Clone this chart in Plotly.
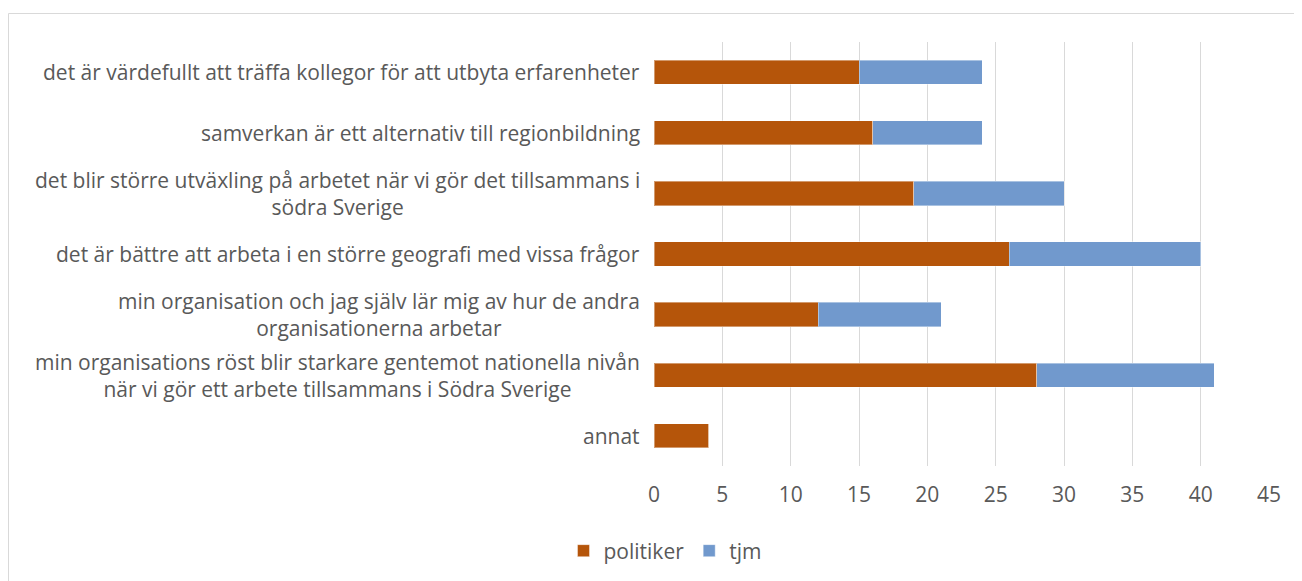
import plotly.graph_objects as go

categories = [
    "det är värdefullt att träffa kollegor för att utbyta erfarenheter",
    "samverkan är ett alternativ till regionbildning",
    "det blir större utväxling på arbetet när vi gör det tillsammans i<br>södra Sverige",
    "det är bättre att arbeta i en större geografi med vissa frågor",
    "min organisation och jag själv lär mig av hur de andra<br>organisationerna arbetar",
    "min organisations röst blir starkare gentemot nationella nivån<br>när vi gör ett arbete tillsammans i Södra Sverige",
    "annat",
]
politiker = [15, 16, 19, 26, 12, 28, 4]
tjm = [9, 8, 11, 14, 9, 13, 0]
x_ticks = [0, 5, 10, 15, 20, 25, 30, 35, 40, 45]

FONT = "Open Sans"
TXT = "#595959"
FS = 21

# the page body has an 8px margin, so the figure starts at (8, 8)
W, H = 1294, 573
L, R, T, B = 646, 33, 34, 115
PW, PH = W - L - R, H - T - B

fig = go.Figure()
fig.add_trace(go.Bar(y=categories, x=politiker, name="politiker", orientation="h",
                     marker=dict(color="#B5550A", line=dict(color="rgba(255,255,255,0.4)", width=1)),
                     width=0.4))
fig.add_trace(go.Bar(y=categories, x=tjm, name="tjm", orientation="h",
                     marker=dict(color="#7199CD", line=dict(color="rgba(255,255,255,0.4)", width=1)),
                     width=0.4))

annotations = []
for c in categories:
    annotations.append(dict(x=0, xref="paper", y=c, yref="y", text=c, showarrow=False,
                            xanchor="right", yanchor="middle", align="center", xshift=-12,
                            font=dict(family=FONT, size=FS, color=TXT)))

fig.update_layout(
    barmode="stack",
    width=W, height=H,
    margin=dict(l=L, r=R, t=T, b=B, pad=0),
    paper_bgcolor="white", plot_bgcolor="white",
    font=dict(family=FONT, size=FS, color=TXT),
    xaxis=dict(range=[0, 45], tickvals=x_ticks, showgrid=True, gridcolor="#D9D9D9", gridwidth=1,
               zeroline=False, showline=False, ticks="outside", ticklen=10, tickcolor="rgba(0,0,0,0)",
               tickfont=dict(family=FONT, size=FS, color=TXT), fixedrange=True),
    yaxis=dict(categoryorder="array", categoryarray=categories, autorange="reversed",
               showticklabels=False, showgrid=False, zeroline=False, showline=False, ticks=""),
    showlegend=True,
    legend=dict(orientation="h", xref="container", yref="container", x=(665 - 8) / W, y=1 - (551 - 8) / H,
                xanchor="center", yanchor="middle", font=dict(family=FONT, size=FS, color=TXT),
                itemwidth=30, traceorder="normal"),
    annotations=annotations,
    shapes=[dict(type="rect", xref="paper", yref="paper",
                 x0=(0.5 - L) / PW, x1=1.2, y0=-0.5, y1=(PH + T - 5.5) / PH,
                 line=dict(color="#D9D9D9", width=1), fillcolor="rgba(0,0,0,0)", layer="below")],
)

fig.write_html("out.html")
